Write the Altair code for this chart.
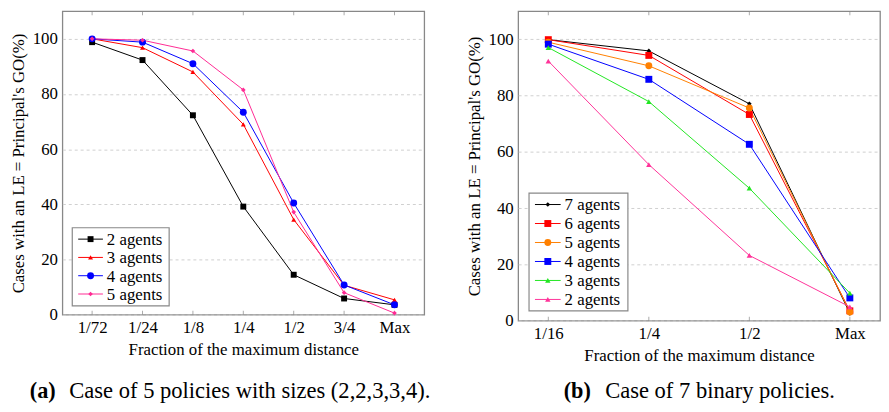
import altair as alt
import pandas as pd

FONT = "Liberation Serif"

# ---------------- panel (a) data ----------------
cats_a = ["1/72", "1/24", "1/8", "1/4", "1/2", "3/4", "Max"]
agents_a = ["2 agents", "3 agents", "4 agents", "5 agents"]
a_2 = [98.8, 92.3, 72.3, 39.2, 14.5, 5.9, 3.6]
a_3 = [100.0, 96.8, 88.0, 69.0, 34.5, 10.7, 5.4]
a_4 = [100.0, 98.8, 91.0, 73.4, 40.5, 10.8, 3.6]
a_5 = [100.0, 99.5, 95.6, 81.5, 37.2, 8.0, 0.6]
series_a = [a_2, a_3, a_4, a_5]

# ---------------- panel (b) data ----------------
cats_b = ["1/16", "1/4", "1/2", "Max"]
agents_b = ["7 agents", "6 agents", "5 agents", "4 agents", "3 agents", "2 agents"]
b_7 = [99.9, 95.9, 77.1, 2.6]
b_6 = [99.9, 94.3, 73.3, 3.5]
b_5 = [99.0, 90.6, 75.6, 3.1]
b_4 = [98.3, 85.8, 62.7, 8.1]
b_3 = [97.1, 77.9, 47.1, 9.8]
b_2 = [92.3, 55.5, 23.2, 4.9]
series_b = [b_7, b_6, b_5, b_4, b_3, b_2]

y_ticks = [0, 20, 40, 60, 80, 100]
x_title = "Fraction of the maximum distance"
y_title = "Cases with an LE = Principal's GO(%)"
cap_a = ["(a)", "Case of 5 policies with sizes (2,2,3,3,4)."]
cap_b = ["(b)", "Case of 7 binary policies."]

# ---------------- styles ----------------
colors_a = ["#000000", "#ff0000", "#0000ff", "#ff2b94"]
shapes_a = ["square", "triangle-up", "circle", "diamond"]
sizes_a = [36, 25, 49, 22]
colors_b = ["#000000", "#ff0000", "#ff8000", "#0000ff", "#22e622", "#ff3399"]
shapes_b = ["diamond", "square", "circle", "square", "triangle-up", "triangle-up"]
sizes_b = [22, 49, 49, 49, 30, 30]

# legend layout (pixels inside plot area)
legend_a = dict(box=(10, 108, 219, 298), row0=230.5, step=18.5, line=(16, 41), mx=28.5, lx=45)
legend_b = dict(box=(11, 111, 184, 303), row0=195.5, step=19.2, line=(17, 43), mx=30, lx=47)


def panel(cats, agents, series, colors, shapes, sizes, width, height, pad,
          lg, cap, cap_x, cap_y):
    rows = []
    for ag, vals in zip(agents, series):
        for i, (c, v) in enumerate(zip(cats, vals)):
            rows.append({"cat": c, "idx": i, "agent": ag, "val": v})
    df = pd.DataFrame(rows)

    x = alt.X("cat:O", sort=cats,
              scale=alt.Scale(type="point", domain=cats, padding=pad),
              axis=alt.Axis(title=x_title, labelAngle=0, labelPadding=5,
                            titlePadding=6, ticks=False, domain=False, grid=False))
    y = alt.Y("val:Q", scale=alt.Scale(domain=[0, 110], nice=False, zero=False),
              axis=alt.Axis(title=y_title, values=y_ticks, labelPadding=5,
                            titlePadding=5, ticks=False, domain=False, grid=True,
                            gridDash=[3, 3], gridColor="#cfcfcf"))
    col = alt.Color("agent:N", scale=alt.Scale(domain=agents, range=colors), legend=None)

    base = alt.Chart(df)
    lines = base.mark_line(strokeWidth=1).encode(
        x=x, y=y, color=col, order=alt.Order("idx:Q"))

    pt_layers = []
    for ag, c, s, sz in zip(agents, colors, shapes, sizes):
        pt_layers.append(
            base.transform_filter(alt.datum.agent == ag)
            .mark_point(filled=True, opacity=1, shape=s, size=sz, color=c)
            .encode(x=x, y=y)
        )

    tdf = pd.DataFrame({"cat": cats})
    tick_lo = alt.Chart(tdf).mark_tick(orient="vertical", size=8, thickness=1,
                                       color="#888888", clip=True).encode(x=x, y=alt.datum(0))
    tick_hi = alt.Chart(tdf).mark_tick(orient="vertical", size=8, thickness=1,
                                       color="#888888", clip=True).encode(x=x, y=alt.datum(110))

    # ----- legend box drawn with marks -----
    bx0, bx1, by0, by1 = lg["box"]
    leg_layers = [
        alt.Chart(pd.DataFrame({"k": [0]})).mark_rect(
            fill="white", stroke="#888888", strokeWidth=1.2).encode(
            x=alt.value(bx0), x2=alt.value(bx1), y=alt.value(by0), y2=alt.value(by1))
    ]
    for r, (ag, c, s, sz) in enumerate(zip(agents, colors, shapes, sizes)):
        ry = lg["row0"] + r * lg["step"]
        ldf = pd.DataFrame({"label": [ag]})
        leg_layers.append(alt.Chart(ldf).mark_rule(color=c, strokeWidth=1).encode(
            x=alt.value(lg["line"][0]), x2=alt.value(lg["line"][1]), y=alt.value(ry)))
        leg_layers.append(alt.Chart(ldf).mark_point(
            filled=True, opacity=1, shape=s, size=sz, color=c).encode(
            x=alt.value(lg["mx"]), y=alt.value(ry)))
        leg_layers.append(alt.Chart(ldf).mark_text(
            font=FONT, fontSize=17, align="left", baseline="middle", color="black").encode(
            text="label:N", x=alt.value(lg["lx"]), y=alt.value(ry + 1)))

    cdf = pd.DataFrame({"t": [cap[0]], "u": [cap[1]]})
    c1 = alt.Chart(cdf).mark_text(font=FONT, fontSize=22.5, fontWeight="bold", align="left",
                                  baseline="alphabetic", color="black").encode(
        text="t:N", x=alt.value(cap_x[0]), y=alt.value(cap_y))
    c2 = alt.Chart(cdf).mark_text(font=FONT, fontSize=22.8, align="left",
                                  baseline="alphabetic", color="black").encode(
        text="u:N", x=alt.value(cap_x[1]), y=alt.value(cap_y))

    return alt.layer(tick_lo, tick_hi, lines, *pt_layers, *leg_layers, c1, c2).properties(
        width=width, height=height)


left = panel(cats_a, agents_a, series_a, colors_a, shapes_a, sizes_a, 366, 307, 0.59,
             legend_a, cap_a, (-33, 7), 391)
right = panel(cats_b, agents_b, series_b, colors_b, shapes_b, sizes_b, 366, 313, 0.3,
              legend_b, cap_b, (46, 88), 391)

chart = alt.hconcat(left, right, spacing=33).resolve_scale(
    color="independent", x="independent", y="independent"
).properties(padding=0).configure_view(
    stroke="#888888", strokeWidth=1.3
).configure_axis(
    labelFont=FONT, labelFontSize=17, labelColor="black",
    titleFont=FONT, titleFontSize=17, titleFontWeight="normal", titleColor="black"
)

chart.save("out.html", embed_options={"renderer": "svg", "actions": False})
